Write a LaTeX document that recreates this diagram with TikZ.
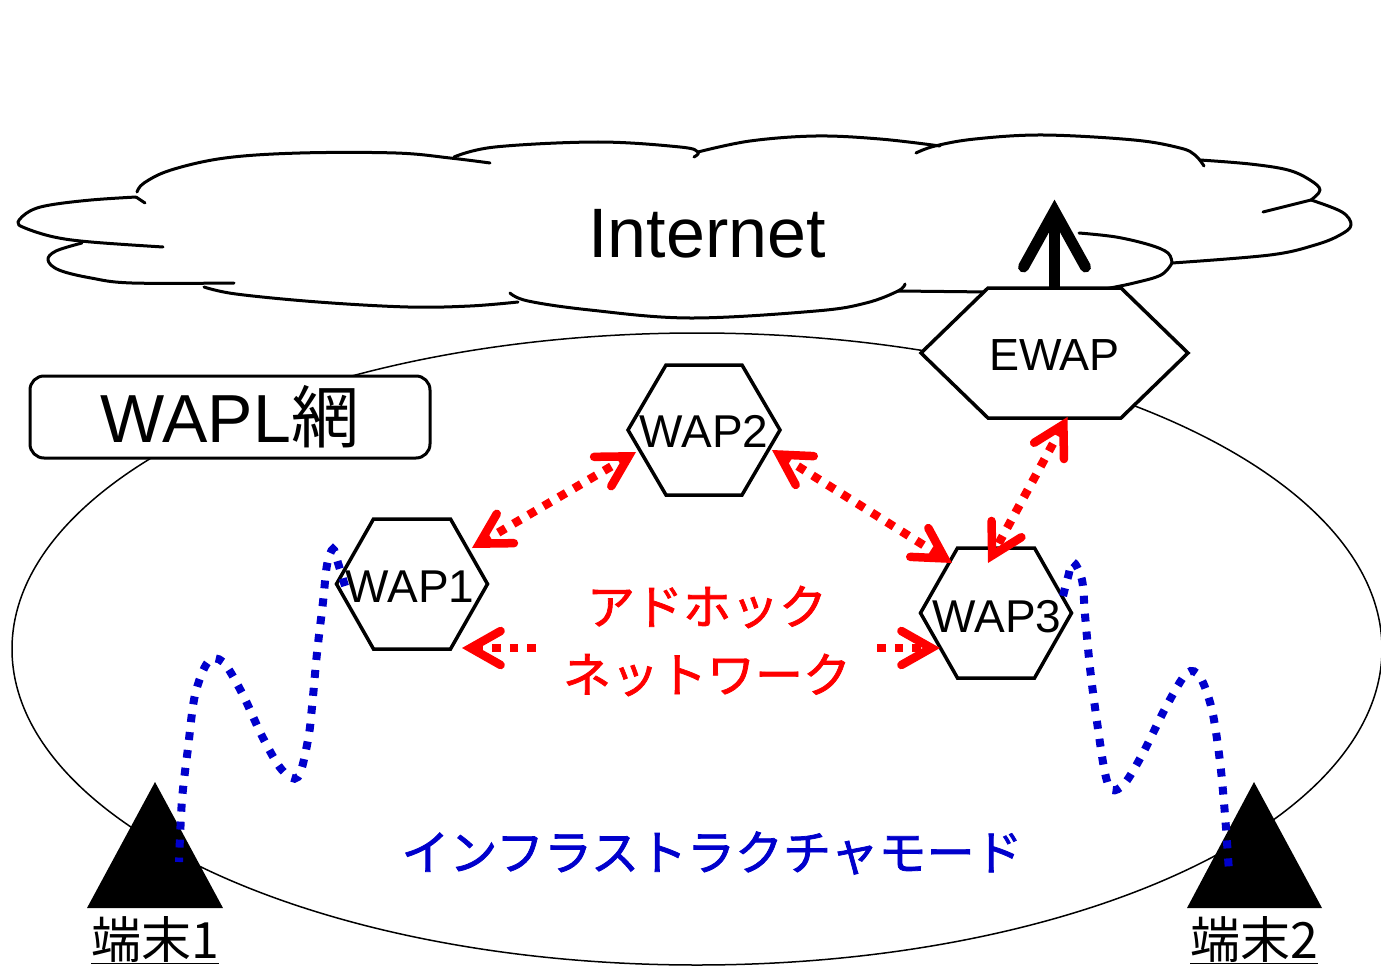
\documentclass[tikz,border=0pt]{standalone}
\usepackage{fontspec}
\setmainfont{Liberation Sans}
\newfontfamily\jpfont{Noto Sans CJK JP}
\newfontfamily\jpheavy[FakeBold=1.6]{Noto Sans CJK JP}
\usetikzlibrary{arrows.meta,calc}
\definecolor{myred}{RGB}{255,0,0}
\definecolor{myblue}{RGB}{0,0,204}
\newcommand{\drawhex}[2]{\draw[hexline] (#1.west) -- ([xshift=#2]#1.north west) -- ([xshift=-#2]#1.north east) -- (#1.east) -- ([xshift=-#2]#1.south east) -- ([xshift=#2]#1.south west) -- cycle;}
\begin{document}
\begin{tikzpicture}[x=1pt,y=-1pt,
  cloudline/.style={line width=3pt,line join=round,line cap=round},
  hexframe/.style={inner sep=0pt,outer sep=0pt,minimum height=130pt},
  hexline/.style={draw=black,fill=white,line width=3.5pt,line join=miter},
  hexlabel/.style={anchor=base,inner sep=0pt,font=\fontsize{46}{50}\selectfont},
  rarrow/.style={draw=myred,line width=8.5pt,dash pattern=on 8.5pt off 9pt,{Straight Barb[length=30pt,width=34pt,line cap=round,line join=miter]}-{Straight Barb[length=30pt,width=34pt,line cap=round,line join=miter]}},
  bluedots/.style={draw=myblue,line width=8pt,dash pattern=on 8pt off 10pt},
  termlabel/.style={anchor=base,inner sep=0pt,font=\jpfont\fontsize{50}{56}\selectfont},
]
\useasboundingbox (0,0) rectangle (1381,971);
\fill[white] (0,0) rectangle (1381,971);

% WAPL network ellipse
\draw[line width=1.5pt] (697,649) ellipse [x radius=685, y radius=316];

% Internet cloud
\draw[cloudline] (145,203) -- (136,197);
\draw[cloudline] plot[smooth,tension=0.6] coordinates {(136,197) (91,200) (50,205) (30,211) (18,222) (25,228) (54,237) (91,242) (163,247)};
\draw[cloudline] plot[smooth,tension=0.6] coordinates {(82,243) (56,251) (48,260) (59,270) (91,278) (132,283) (234,283)};
\draw[cloudline] plot[smooth,tension=0.6] coordinates {(204,287) (236,294) (318,302) (408,307) (470,306) (518,302)};
\draw[cloudline] plot[smooth,tension=0.6] coordinates {(510,293) (528,301) (590,310) (690,318) (816,311) (866,303) (898,291) (905,284)};
\draw[cloudline] (898,291) -- (990,292);
\draw[cloudline] plot[smooth,tension=0.6] coordinates {(137,192) (144,183) (171,170) (225,158) (300,153) (396,153) (450,158) (490,163)};
\draw[cloudline] plot[smooth,tension=0.6] coordinates {(454,157) (495,147) (598,142) (680,147) (698,152) (694,157)};
\draw[cloudline] plot[smooth,tension=0.6] coordinates {(698,152) (750,141) (816,136) (880,139) (940,146)};
\draw[cloudline] plot[smooth,tension=0.6] coordinates {(916,153) (935,146) (975,139) (1043,135) (1134,140) (1180,148) (1195,155) (1204,166)};
\draw[cloudline] plot[smooth,tension=0.6] coordinates {(1200,160) (1250,164) (1288,170) (1310,180) (1320,190) (1311,200)};
\draw[cloudline] (1311,200) -- (1263,212);
\draw[cloudline] plot[smooth,tension=0.6] coordinates {(1311,200) (1342,212) (1351,225) (1340,235) (1315,245) (1270,255) (1172,263)};
\draw[cloudline] plot[smooth,tension=0.6] coordinates {(1172,263) (1161,275) (1134,283) (1105,289)};
\draw[cloudline] plot[smooth,tension=0.6] coordinates {(1172,263) (1168,253) (1150,245) (1116,237) (1079,233)};
\node[inner sep=0pt,anchor=base,font=\fontsize{70}{80}\selectfont] (internet) at (707,257) {Internet};

% WAPL box
\node[draw,line width=3pt,rounded corners=14pt,fill=white,minimum width=400pt,minimum height=82pt,inner sep=0pt,font=\fontsize{68}{76}\selectfont] (wapl) at (230,417) {WAPL{\jpfont 網}};

% hexagon frames
\node[hexframe,minimum width=151pt] (wap1) at (412,584) {};
\node[hexframe,minimum width=152pt] (wap2) at (704,430) {};
\node[hexframe,minimum width=151pt] (wap3) at (996,613) {};
\node[hexframe,minimum width=267pt] (ewap) at (1054.5,353) {};
\drawhex{wap1}{37pt}
\drawhex{wap2}{38pt}
\drawhex{wap3}{37pt}
\drawhex{ewap}{67pt}
\node[hexlabel] (wap1t) at ($(wap1)+(-2,18)$) {WAP1};
\node[hexlabel] (wap2t) at ($(wap2)+(0,17)$) {WAP2};
\node[hexlabel] (wap3t) at ($(wap3)+(1,19)$) {WAP3};
\node[hexlabel,font=\fontsize{45}{50}\selectfont] (ewapt) at ($(ewap)+(0,17)$) {EWAP};

% uplink arrow
\coordinate (nettip) at ($(ewap.north)+(0,-77)$);
\draw[line width=11pt] (ewap.north) -- ($(nettip)+(0,10)$);
\draw[line width=11pt,line cap=round,line join=miter] ($(nettip)+(-31,56)$) -- (nettip) -- ($(nettip)+(31,56)$);

% ad hoc links
\draw[rarrow] ($(wap1)+(60,-36)$) -- ($(wap2)+(-68,22)$);
\draw[rarrow] ($(wap2)+(68,20)$) -- ($(wap3)+(-44,-50)$);
\draw[rarrow] ($(ewap)+(13,64)$) -- ($(wap3)+(-8,-50)$);
\draw[rarrow] ($(wap1)+(50,64)$) -- ($(wap3)+(-56,35)$);
\node[fill=white,text=myred,align=center,inner xsep=23pt,inner ysep=3pt,font=\jpheavy\fontsize{48}{68}\selectfont] (adhoc) at (707,641) {アドホック\\ネットワーク};

% infrastructure mode
\node[text=myblue,inner sep=0pt,font=\jpheavy\fontsize{48}{56}\selectfont] (infra) at (712,853) {インフラストラクチャモード};

% terminals
\coordinate (t1) at (155,782);
\coordinate (t2) at (1254,782);
\fill (t1) -- ++(-68,126) -- ++(136,0) -- cycle;
\fill (t2) -- ++(-67,126) -- ++(135,0) -- cycle;
\node[termlabel] (l1) at (155,958) {\underline{端末1}};
\node[termlabel] (l2) at (1254,958) {\underline{端末2}};

% wireless links
\draw[bluedots] plot[smooth,tension=0.55] coordinates {(345,586) (338,563) (333,549) (327,565) (323,602) (317,653) (312,707) (308,740) (298,777) (282,770) (263,738) (242,693) (223,662) (208,662) (195,695) (188,748) (182,800) (179,862)};
\draw[bluedots] plot[smooth,tension=0.55] coordinates {(1063,596) (1068,577) (1073,562) (1082,580) (1085,615) (1090,668) (1097,722) (1105,773) (1112,790) (1125,783) (1143,753) (1167,705) (1187,673) (1200,677) (1212,710) (1220,762) (1225,815) (1229,872)};
\end{tikzpicture}
\end{document}
